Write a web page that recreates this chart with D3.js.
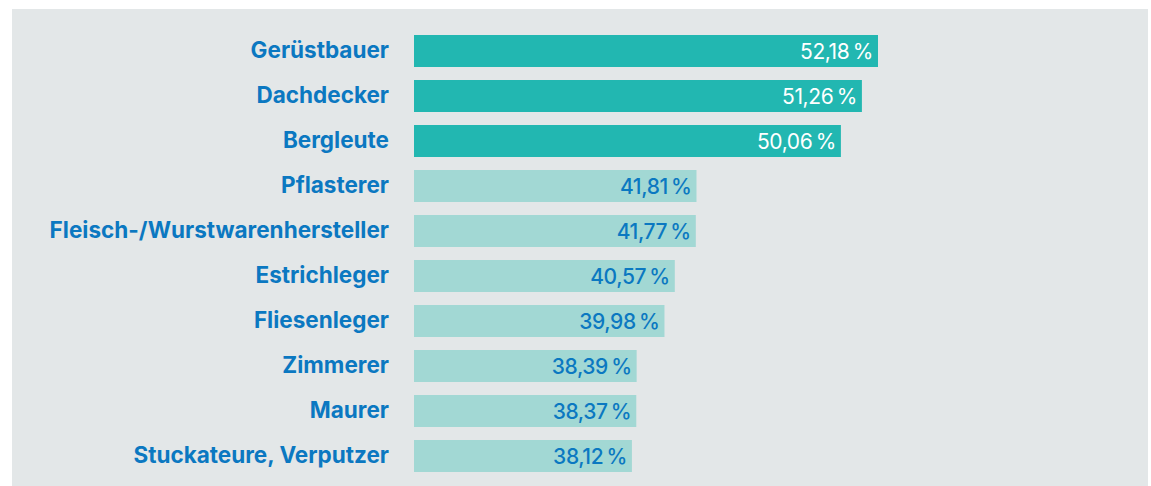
<!DOCTYPE html>
<html>
<head>
<meta charset="utf-8">
<script src="https://cdn.jsdelivr.net/npm/d3@7"></script>
<style>
    body { margin: 0; background: #fff; }
    .cat-label { font-family: Inter, "Noto Sans", sans-serif; font-weight: 700; font-size: 22.5px; fill: #0b78c1; }
    .val-label { font-family: Inter, "Noto Sans", sans-serif; font-size: 21px; letter-spacing: -0.4px; }
</style>
</head>
<body>
<div id="chart"></div>
<script>
// data
let categories = ["Gerüstbauer", "Dachdecker", "Bergleute", "Pflasterer", "Fleisch-/Wurstwarenhersteller",
    "Estrichleger", "Fliesenleger", "Zimmerer", "Maurer", "Stuckateure, Verputzer"];
let values = [52.18, 51.26, 50.06, 41.81, 41.77, 40.57, 39.98, 38.39, 38.37, 38.12];
let highlighted = [true, true, true, false, false, false, false, false, false, false];

let width = 1151, height = 486;

let svg = d3.select("#chart").append("svg")
    .attr("width", width)
    .attr("height", height);

// grey panel
svg.append("rect")
    .attr("x", 12)
    .attr("y", 9)
    .attr("width", 1136)
    .attr("height", height - 9)
    .attr("fill", "#e3e7e8");

// scales
let x = d3.scaleLinear()
    .domain([25.67, 52.18])
    .range([414, 878]);

let y = d3.scaleBand()
    .domain(categories)
    .range([35, 472])
    .paddingInner(13 / 45)
    .paddingOuter(0);

let fmt = v => v.toFixed(2).replace(".", ",") + "\u2009%";

let rows = svg.selectAll(".row")
    .data(categories)
    .enter().append("g")
    .attr("class", "row");

rows.append("rect")
    .attr("x", x(x.domain()[0]))
    .attr("y", d => y(d))
    .attr("width", (d, i) => x(values[i]) - x(x.domain()[0]))
    .attr("height", y.bandwidth())
    .attr("fill", (d, i) => highlighted[i] ? "#22b7b1" : "#a2d8d4");

rows.append("text")
    .attr("class", "cat-label")
    .attr("text-anchor", "end")
    .attr("x", 389)
    .attr("y", d => y(d) + y.bandwidth() / 2)
    .attr("dy", "0.33em")
    .text(d => d);

rows.append("text")
    .attr("class", "val-label")
    .attr("text-anchor", "end")
    .attr("x", (d, i) => x(values[i]) - 5)
    .attr("y", d => y(d) + y.bandwidth() / 2)
    .attr("dy", "0.36em")
    .attr("font-weight", (d, i) => highlighted[i] ? 400 : 500)
    .attr("fill", (d, i) => highlighted[i] ? "#ffffff" : "#0b78c1")
    .text((d, i) => fmt(values[i]));
</script>
</body>
</html>
